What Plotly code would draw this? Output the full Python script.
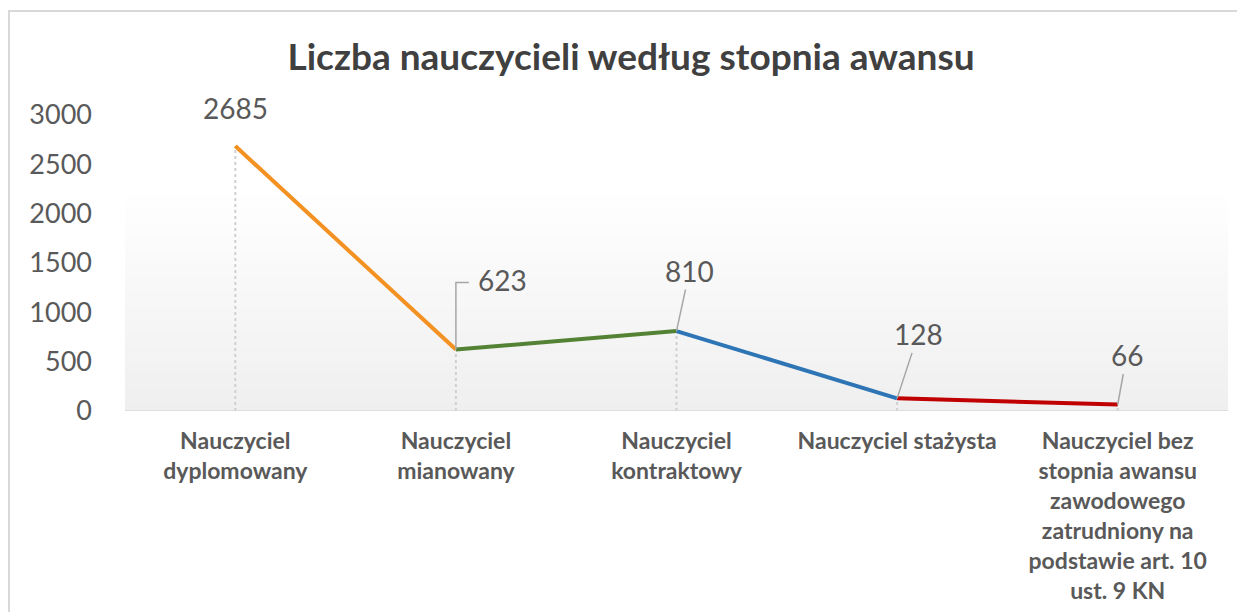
import plotly.graph_objects as go

categories = [
    "Nauczyciel<br>dyplomowany",
    "Nauczyciel<br>mianowany",
    "Nauczyciel<br>kontraktowy",
    "Nauczyciel stażysta",
    "Nauczyciel bez<br>stopnia awansu<br>zawodowego<br>zatrudniony na<br>podstawie art. 10<br>ust. 9 KN",
]
values = [2685, 623, 810, 128, 66]
segment_colors = ["#F39122", "#548235", "#2E75B6", "#C00000"]
y_ticks = [0, 500, 1000, 1500, 2000, 2500, 3000]
title_text = "Liczba nauczycieli według stopnia awansu"

FONT = "Lato"
W, H = 1245, 612
OFF = 8  # page body margin
L, R, T = 125 - OFF, W - (1228 - OFF), 115 - OFF
B = H - (411 - OFF)
pw, ph = W - L - R, H - T - B

xs = list(range(len(categories)))
fig = go.Figure()

# background gradient (decoration)
g_top = (411 - 187) / ph
n = 60
for k in range(n):
    f0 = g_top * k / n
    f1 = g_top * (k + 1) / n
    t = k / (n - 1)
    c = int(round(239 + (255 - 239) * t))
    fig.add_shape(type="rect", xref="paper", yref="paper", x0=0, x1=1, y0=f0, y1=f1 + 0.002,
                  fillcolor=f"rgb({c},{c},{c})", line_width=0, layer="below")

# outer border
fig.add_shape(type="rect", xref="paper", yref="paper",
              x0=(1 - L) / pw, x1=1.2, y0=-1.2, y1=1 + (T - 3) / ph,
              line=dict(color="#D9D9D9", width=2), fillcolor="rgba(0,0,0,0)", layer="below")

# drop lines
for i, v in zip(xs, values):
    fig.add_shape(type="line", x0=i, x1=i, y0=0, y1=v, xref="x", yref="y",
                  line=dict(color="#D0D0D0", width=2, dash="dot"), layer="below")

# baseline
fig.add_shape(type="line", xref="paper", yref="y", x0=0, x1=1, y0=0, y1=0,
              line=dict(color="#D9D9D9", width=1.5))

for i in range(len(values) - 1):
    fig.add_trace(go.Scatter(x=[xs[i], xs[i + 1]], y=[values[i], values[i + 1]],
                             mode="lines", line=dict(color=segment_colors[i], width=4),
                             showlegend=False, hoverinfo="skip"))

lab_font = dict(family=FONT, size=28, color="#595959")
offsets = [(0, -38), (47, -70), (13, -60), (21, -64), (9, -49)]
for i, (v, (dx, dy)) in enumerate(zip(values, offsets)):
    if i in (0, 1):
        fig.add_annotation(x=xs[i], y=v, xref="x", yref="y", text=str(v), showarrow=False,
                           xshift=dx, yshift=-dy, font=lab_font)
    else:
        fig.add_annotation(x=xs[i], y=v, xref="x", yref="y", text=str(v), showarrow=True,
                           ax=dx, ay=dy, arrowhead=0, arrowwidth=1.5, arrowcolor="#A6A6A6",
                           standoff=0, startstandoff=0, font=lab_font)

# elbow leader for second label
fig.add_shape(type="path", xref="x", yref="y", xsizemode="pixel", ysizemode="pixel",
              xanchor=xs[1], yanchor=values[1], path="M0,0 V67 H13",
              line=dict(color="#A6A6A6", width=1.5))

fig.update_layout(
    width=W, height=H,
    margin=dict(l=L, r=R, t=T, b=B),
    paper_bgcolor="white", plot_bgcolor="rgba(0,0,0,0)",
    title=dict(text=f"<b>{title_text}</b>", x=(631 - OFF) / W, xref="container", xanchor="center",
               y=1 - (57 - OFF) / H, yref="container", yanchor="middle",
               font=dict(family=FONT, size=37, color="#404040")),
    xaxis=dict(range=[-0.5, len(categories) - 0.5], tickvals=xs,
               ticktext=[f"<b>{c}</b>" for c in categories],
               showgrid=False, zeroline=False, showline=False, ticks="",
               tickfont=dict(family=FONT, size=23, color="#595959"), ticklabelstandoff=14),
    yaxis=dict(range=[0, 3000], tickvals=y_ticks, showgrid=False, zeroline=False,
               showline=False, ticks="", tickfont=dict(family=FONT, size=27, color="#595959"),
               ticklabelstandoff=32),
)

fig.write_html("out.html")
